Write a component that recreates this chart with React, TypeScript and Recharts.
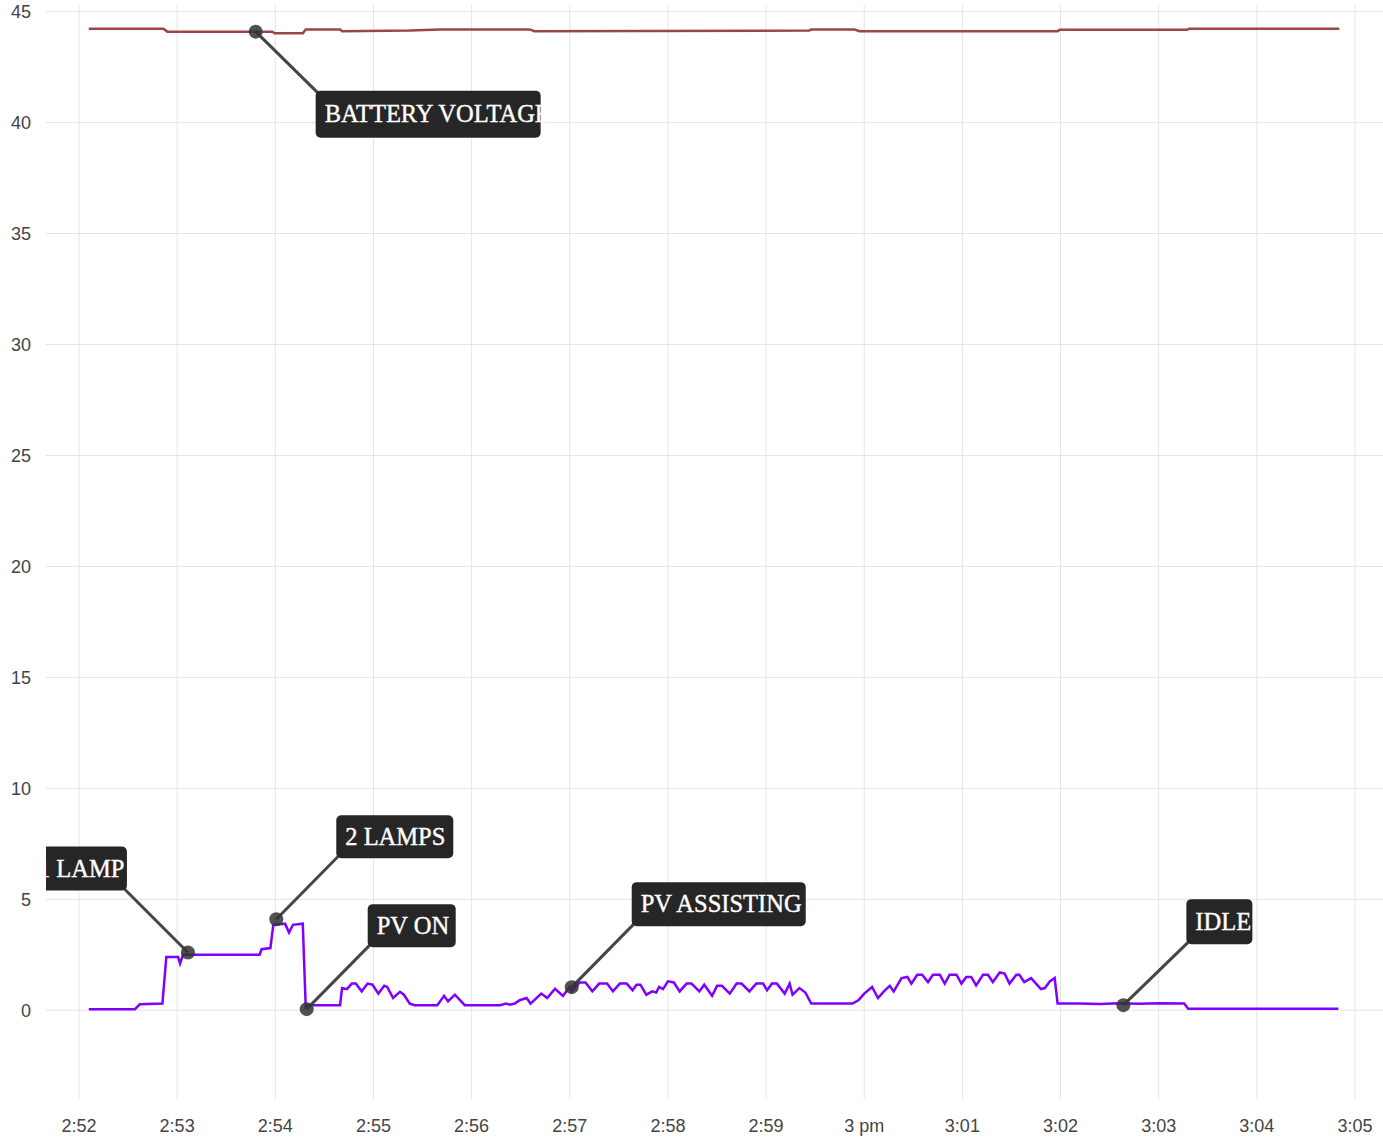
import { CartesianGrid, Line, LineChart, ReferenceDot, XAxis, YAxis } from "recharts";

// minutes after 2:52 pm
const minuteTicks = [0, 1, 2, 3, 4, 5, 6, 7, 8, 9, 10, 11, 12, 13];
const minuteLabels = ["2:52", "2:53", "2:54", "2:55", "2:56", "2:57", "2:58", "2:59", "3 pm", "3:01", "3:02", "3:03", "3:04", "3:05"];
const valueTicks = [0, 5, 10, 15, 20, 25, 30, 35, 40, 45];

// [minute, volts]
const batteryVoltage: [number, number][] = [
  [0.1, 44.23], [0.86, 44.23], [0.9, 44.1], [1.97, 44.1], [1.99, 44.03], [2.28, 44.03],
  [2.31, 44.2], [2.66, 44.2], [2.68, 44.12], [3.37, 44.15], [3.68, 44.2], [4.59, 44.2],
  [4.64, 44.12], [7.44, 44.15], [7.46, 44.2], [7.9, 44.2], [7.95, 44.12], [9.97, 44.12],
  [9.99, 44.18], [11.29, 44.18], [11.31, 44.23], [12.84, 44.23],
];

// [minute, amps]
const currentLamps: [number, number][] = [
  [0.1, 0.05], [0.57, 0.05], [0.62, 0.27], [0.85, 0.3], [0.89, 2.4], [1.01, 2.4], [1.03, 2.1],
  [1.06, 2.5], [1.84, 2.5], [1.86, 2.75], [1.95, 2.8], [1.98, 3.85], [2.1, 3.9], [2.14, 3.5],
  [2.18, 3.85], [2.28, 3.9], [2.31, 0.15], [2.33, 0.23],
];
const currentPvOn: [number, number][] = [
  [2.66, 0.23], [2.68, 1.0], [2.73, 0.95], [2.78, 1.2], [2.82, 1.2], [2.88, 0.85], [2.94, 1.2],
  [2.99, 1.15], [3.05, 0.75], [3.11, 1.1], [3.14, 1.05], [3.2, 0.55], [3.27, 0.83], [3.31, 0.7],
  [3.37, 0.3], [3.42, 0.23], [3.65, 0.23], [3.72, 0.65], [3.76, 0.4], [3.83, 0.7], [3.93, 0.23],
  [4.29, 0.23], [4.35, 0.3], [4.39, 0.25], [4.44, 0.3],
];
const currentPvAssisting: [number, number][] = [
  [4.49, 0.45], [4.56, 0.55], [4.6, 0.3], [4.71, 0.75], [4.77, 0.55], [4.85, 0.97], [4.93, 0.65],
  [5.0, 1.05], [5.02, 0.85], [5.1, 1.25], [5.16, 1.25], [5.23, 0.85], [5.3, 1.2], [5.38, 1.2],
  [5.44, 0.85], [5.51, 1.2], [5.58, 1.2], [5.64, 0.9], [5.68, 1.15], [5.72, 1.15], [5.78, 0.7],
  [5.84, 0.85], [5.88, 0.8], [5.91, 1.05], [5.95, 0.95], [6.0, 1.3], [6.06, 1.25], [6.12, 0.85],
  [6.19, 1.2], [6.24, 1.2], [6.32, 0.85], [6.37, 1.15], [6.45, 0.65], [6.5, 1.1], [6.55, 1.1],
  [6.63, 0.75], [6.7, 1.2], [6.75, 1.2], [6.83, 0.85], [6.9, 1.2], [6.97, 1.2], [7.01, 0.9],
  [7.06, 1.2], [7.11, 1.2], [7.19, 0.75], [7.24, 1.2], [7.27, 0.7], [7.34, 1.0], [7.4, 0.8],
  [7.46, 0.3], [7.88, 0.3],
];
const currentPvPeak: [number, number][] = [
  [7.94, 0.45], [7.95, 0.5], [8.0, 0.75], [8.08, 1.05], [8.14, 0.55], [8.2, 0.85], [8.26, 1.1],
  [8.3, 0.85], [8.38, 1.45], [8.44, 1.5], [8.48, 1.2], [8.54, 1.6], [8.59, 1.6], [8.65, 1.27],
  [8.7, 1.6], [8.77, 1.6], [8.82, 1.2], [8.87, 1.6], [8.94, 1.6], [8.99, 1.2], [9.04, 1.5],
  [9.09, 1.5], [9.14, 1.12], [9.21, 1.6], [9.26, 1.6], [9.31, 1.27], [9.38, 1.7], [9.43, 1.65],
  [9.48, 1.2], [9.55, 1.6], [9.58, 1.6], [9.63, 1.27], [9.7, 1.45], [9.75, 1.2], [9.8, 0.95],
  [9.84, 1.0], [9.89, 1.3], [9.94, 1.45], [9.97, 0.3],
];
const currentIdle: [number, number][] = [
  [10.19, 0.3], [10.4, 0.28], [10.6, 0.32], [10.8, 0.29], [11.0, 0.31], [11.26, 0.3],
  [11.3, 0.07], [12.83, 0.07],
];

const noteLabels = ["BATTERY VOLTAGE", "1 LAMP", "2 LAMPS", "PV ON", "PV ASSISTING", "IDLE"];
const noteMinutes = [1.8, 1.11, 2.01, 2.32, 5.02, 10.64];
const noteValues = [44.1, 2.6, 4.1, 0.05, 1.04, 0.23];

const noteBoxes = [
  { dx: 60, dy: 59, w: 225, h: 47 },
  { dx: -159, dy: -106, w: 98, h: 44 },
  { dx: 60, dy: -104, w: 117, h: 43 },
  { dx: 61, dy: -105, w: 88, h: 43 },
  { dx: 60, dy: -105, w: 174, h: 44 },
  { dx: 63, dy: -106, w: 66, h: 45 },
];

// plot area of the chart below (left, top, width, height)
const PLOT = { x: 46, y: 5, w: 1337, h: 1094 };

const toRows = (pts: [number, number][]) => pts.map(([t, v]) => ({ t, v }));
const batteryRows = toRows(batteryVoltage);
const currentRows = toRows([...currentLamps, ...currentPvOn, ...currentPvAssisting, ...currentPvPeak, ...currentIdle]);

function Note({ cx, cy, label, box, id }: any) {
  if (typeof cx !== "number" || typeof cy !== "number") return null;
  const x = cx + box.dx;
  const y = cy + box.dy;
  const lx = box.dx < 0 ? x + box.w - 5 : x + 4;
  const ly = box.dy < 0 ? y + box.h - 4 : y + 4;
  return (
    <g clipPath={`url(#${id})`}>
      <defs>
        <clipPath id={id}>
          <rect x={PLOT.x} y={PLOT.y} width={PLOT.w} height={PLOT.h} />
        </clipPath>
      </defs>
      <line x1={cx} y1={cy} x2={lx} y2={ly} stroke="#454545" strokeWidth={3} />
      <circle cx={cx} cy={cy} r={7} fill="#333" fillOpacity={0.85} />
      <rect x={x} y={y} width={box.w} height={box.h} rx={5} fill="#262626" />
      <text
        x={x + 9}
        y={y + box.h / 2 + 8}
        fill="#fff"
        stroke="#fff"
        strokeWidth={0.4}
        fontFamily="'Liberation Serif', serif"
        fontSize={24.5}
      >
        {label}
      </text>
    </g>
  );
}

const tickFont = { fill: "#444", fontSize: 18, fontFamily: "'Liberation Sans', Arial, sans-serif" };

export default function App() {
  return (
    <div style={{ position: "absolute", left: 0, top: 0, background: "#fff" }}>
      <LineChart width={1383} height={1138} margin={{ top: 5, right: 0, bottom: 0, left: 0 }}>
        <CartesianGrid stroke="#e4e4e4" horizontalValues={valueTicks} verticalValues={minuteTicks} />
        <XAxis
          type="number"
          dataKey="t"
          domain={[-0.336, 13.285]}
          ticks={minuteTicks}
          tickFormatter={(v: number) => minuteLabels[v]}
          allowDataOverflow
          height={39}
          axisLine={false}
          tickLine={false}
          tickSize={0}
          tickMargin={20}
          interval={0}
          tick={tickFont}
        />
        <YAxis
          type="number"
          domain={[-4, 45.3]}
          ticks={valueTicks}
          allowDataOverflow
          width={46}
          axisLine={false}
          tickLine={false}
          tickSize={0}
          tickMargin={15}
          interval={0}
          tick={tickFont}
        />
        <Line data={batteryRows} dataKey="v" type="linear" stroke="#9a4646" strokeWidth={2.5} dot={false} isAnimationActive={false} />
        <Line data={currentRows} dataKey="v" type="linear" stroke="#8000ff" strokeWidth={2.5} dot={false} isAnimationActive={false} />
        {noteLabels.map((label, i) => (
          <ReferenceDot
            key={label}
            x={noteMinutes[i]}
            y={noteValues[i]}
            r={7}
            shape={(p: any) => <Note cx={p.cx} cy={p.cy} label={label} box={noteBoxes[i]} id={`note-clip-${i}`} />}
          />
        ))}
      </LineChart>
    </div>
  );
}
